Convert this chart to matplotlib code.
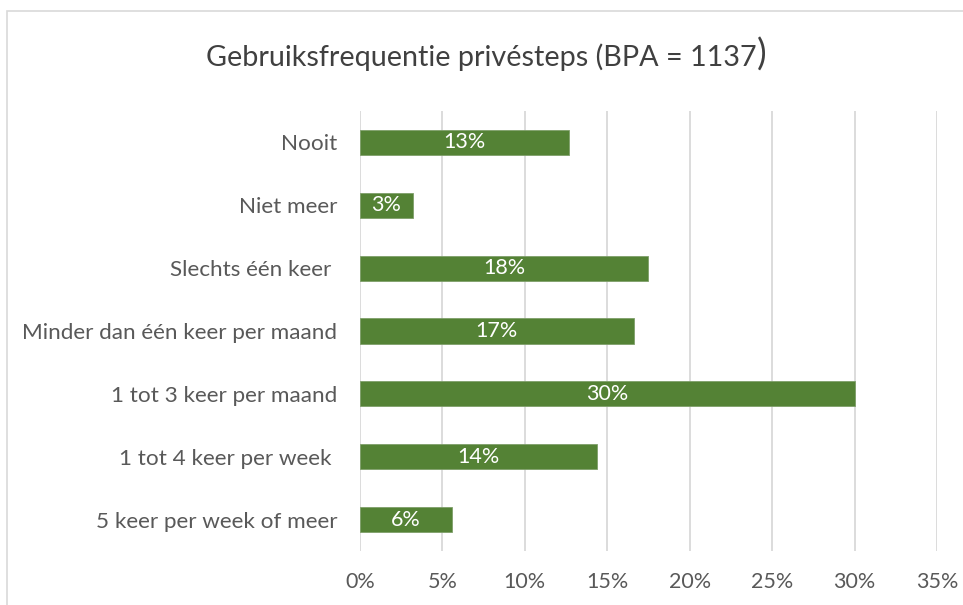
#!/usr/bin/env python3
# -*- coding: utf-8 -*-
# plot.py

import numpy as np

from matplotlib import pyplot as plt
from matplotlib.patches import Rectangle

###############################################################################

categorias = [
  'Nooit',
  'Niet meer',
  'Slechts één keer ',
  'Minder dan één keer per maand',
  '1 tot 3 keer per maand',
  '1 tot 4 keer per week ',
  '5 keer per week of meer',
]
valores = [12.7, 3.2, 17.5, 16.6, 30.0, 14.4, 5.6]
ticks_x = [0, 5, 10, 15, 20, 25, 30, 35]
titulo = 'Gebruiksfrequentie privésteps (BPA = 1137'

VERDE = '#548235'
GRIS = '#595959'
GRILLA = '#d9d9d9'

plt.rcParams['font.family'] = ['Lato', 'DejaVu Sans']

fig = plt.figure(figsize=(9.63, 6.05), dpi=100)
ax = fig.add_axes([0.3738, 0.0893, 0.9730 - 0.3738, 0.8165 - 0.0893])

# borde del grafico (cortado a la derecha y abajo)
fig.patches.append(Rectangle(
  (7 / 963, -0.05), 1.2, 1.05 - 11 / 605,
  transform=fig.transFigure, fill=False, edgecolor=GRILLA, linewidth=1.2
))

y = np.arange(len(categorias))
ax.barh(y, valores, height=0.4, color=VERDE, edgecolor='#7f9f6a',
        linewidth=0.6, zorder=3)
for yi, v in zip(y, valores):
  ax.text(v / 2, yi, f'{v:.0f}%', ha='center', va='center',
          color='white', fontsize=15.5, zorder=4)

ax.set_ylim(len(categorias) - 0.5, -0.5)
ax.set_xlim(0, 35)
ax.set_yticks(y)
ax.set_yticklabels(categorias, fontsize=16.2, color=GRIS)
ax.set_xticks(ticks_x)
ax.set_xticklabels([f'{t}%' for t in ticks_x], fontsize=15.5, color=GRIS)
ax.tick_params(axis='y', length=0, pad=16.5)
ax.tick_params(axis='x', length=0, pad=15)
for s in ax.spines.values():
  s.set_visible(False)
ax.grid(axis='x', color=GRILLA, linewidth=1.3, zorder=0)
ax.set_axisbelow(True)

# titulo, con el parentesis final mas grande
t = fig.text(0.4995, 1 - 57 / 605, titulo, ha='center', va='center',
             fontsize=20.7, color='#404040')
fig.canvas.draw()
bb = t.get_window_extent()
fig.text(bb.x1 / 963 + 0.001, 1 - 57 / 605 + 0.004, ')', ha='left',
         va='center', fontsize=26, color='#404040')

fig.savefig('out.png', dpi=100)
